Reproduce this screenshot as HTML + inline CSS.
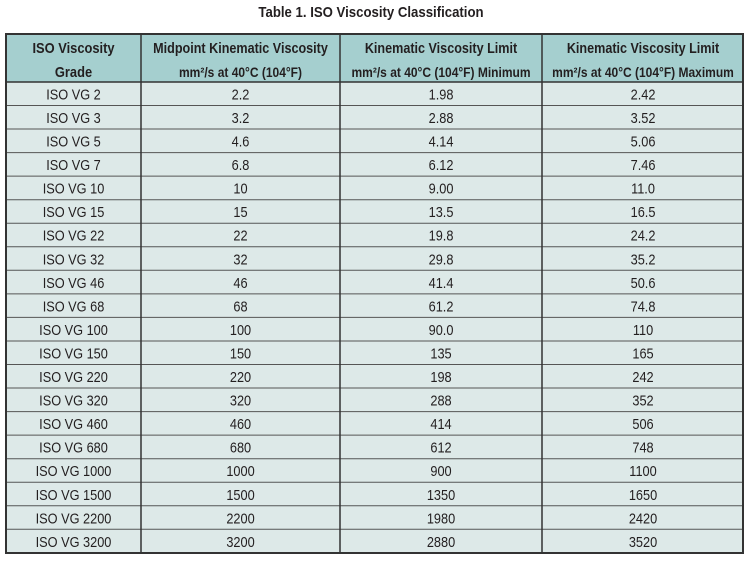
<!DOCTYPE html>
<html><head><style>
body{margin:0;background:#fff;width:750px;height:561px;overflow:hidden}
svg text{font-family:"Liberation Sans",sans-serif;fill:#231f20}
</style></head><body>
<svg width="750" height="561" viewBox="0 0 750 561" xmlns="http://www.w3.org/2000/svg">
<g transform="translate(371,0) scale(0.88,1)"><text x="0" y="17" text-anchor="middle" font-size="15" font-weight="bold">Table 1. ISO Viscosity Classification</text></g>
<rect x="6" y="34" width="737" height="48" fill="#a5cfcf"/>
<rect x="6" y="82" width="737" height="471" fill="#dde9e8"/>
<g stroke="#555" stroke-width="1">
<line x1="6" y1="105.5" x2="743" y2="105.5"/><line x1="6" y1="129" x2="743" y2="129"/>
<line x1="6" y1="152.6" x2="743" y2="152.6"/><line x1="6" y1="176.1" x2="743" y2="176.1"/>
<line x1="6" y1="199.7" x2="743" y2="199.7"/><line x1="6" y1="223.2" x2="743" y2="223.2"/>
<line x1="6" y1="246.8" x2="743" y2="246.8"/><line x1="6" y1="270.3" x2="743" y2="270.3"/>
<line x1="6" y1="293.9" x2="743" y2="293.9"/><line x1="6" y1="317.4" x2="743" y2="317.4"/>
<line x1="6" y1="341" x2="743" y2="341"/><line x1="6" y1="364.5" x2="743" y2="364.5"/>
<line x1="6" y1="388" x2="743" y2="388"/><line x1="6" y1="411.6" x2="743" y2="411.6"/>
<line x1="6" y1="435.1" x2="743" y2="435.1"/><line x1="6" y1="458.7" x2="743" y2="458.7"/>
<line x1="6" y1="482.2" x2="743" y2="482.2"/><line x1="6" y1="505.8" x2="743" y2="505.8"/>
<line x1="6" y1="529.3" x2="743" y2="529.3"/>
</g>
<g stroke="#333" stroke-width="1.5">
<line x1="6" y1="82" x2="743" y2="82"/>
<line x1="141" y1="34" x2="141" y2="553"/><line x1="340" y1="34" x2="340" y2="553"/><line x1="542" y1="34" x2="542" y2="553"/>
</g>
<rect x="6" y="34" width="737" height="519" fill="none" stroke="#333" stroke-width="2"/>
<g font-size="15" font-weight="bold" text-anchor="middle">
<g transform="translate(73.5,0) scale(0.86,1)"><text x="0" y="53">ISO Viscosity</text><text x="0" y="77">Grade</text></g>
<g transform="translate(240.5,0) scale(0.84,1)"><text x="0" y="53">Midpoint Kinematic Viscosity</text></g>
<g transform="translate(441,0) scale(0.84,1)"><text x="0" y="53">Kinematic Viscosity Limit</text></g>
<g transform="translate(643,0) scale(0.84,1)"><text x="0" y="53">Kinematic Viscosity Limit</text></g>
</g>
<g font-size="13.5" font-weight="bold" text-anchor="middle">
<g transform="translate(240.5,0) scale(0.89,1)"><text x="0" y="77">mm²/s at 40°C (104°F)</text></g>
<g transform="translate(441,0) scale(0.89,1)"><text x="0" y="77">mm²/s at 40°C (104°F) Minimum</text></g>
<g transform="translate(643,0) scale(0.89,1)"><text x="0" y="77">mm²/s at 40°C (104°F) Maximum</text></g>
</g>
<g font-size="15" text-anchor="middle">
<g transform="translate(73.5,0) scale(0.85,1)">
<text x="0" y="99.5">ISO VG 2</text><text x="0" y="123">ISO VG 3</text><text x="0" y="146.5">ISO VG 5</text><text x="0" y="170.1">ISO VG 7</text><text x="0" y="193.6">ISO VG 10</text><text x="0" y="217.2">ISO VG 15</text><text x="0" y="240.7">ISO VG 22</text><text x="0" y="264.3">ISO VG 32</text><text x="0" y="287.8">ISO VG 46</text><text x="0" y="311.4">ISO VG 68</text><text x="0" y="334.9">ISO VG 100</text><text x="0" y="358.5">ISO VG 150</text><text x="0" y="382">ISO VG 220</text><text x="0" y="405.6">ISO VG 320</text><text x="0" y="429.1">ISO VG 460</text><text x="0" y="452.7">ISO VG 680</text><text x="0" y="476.2">ISO VG 1000</text><text x="0" y="499.8">ISO VG 1500</text><text x="0" y="523.3">ISO VG 2200</text><text x="0" y="546.9">ISO VG 3200</text>
</g>
<g transform="translate(240.5,0) scale(0.85,1)">
<text x="0" y="99.5">2.2</text><text x="0" y="123">3.2</text><text x="0" y="146.5">4.6</text><text x="0" y="170.1">6.8</text><text x="0" y="193.6">10</text><text x="0" y="217.2">15</text><text x="0" y="240.7">22</text><text x="0" y="264.3">32</text><text x="0" y="287.8">46</text><text x="0" y="311.4">68</text><text x="0" y="334.9">100</text><text x="0" y="358.5">150</text><text x="0" y="382">220</text><text x="0" y="405.6">320</text><text x="0" y="429.1">460</text><text x="0" y="452.7">680</text><text x="0" y="476.2">1000</text><text x="0" y="499.8">1500</text><text x="0" y="523.3">2200</text><text x="0" y="546.9">3200</text>
</g>
<g transform="translate(441,0) scale(0.85,1)">
<text x="0" y="99.5">1.98</text><text x="0" y="123">2.88</text><text x="0" y="146.5">4.14</text><text x="0" y="170.1">6.12</text><text x="0" y="193.6">9.00</text><text x="0" y="217.2">13.5</text><text x="0" y="240.7">19.8</text><text x="0" y="264.3">29.8</text><text x="0" y="287.8">41.4</text><text x="0" y="311.4">61.2</text><text x="0" y="334.9">90.0</text><text x="0" y="358.5">135</text><text x="0" y="382">198</text><text x="0" y="405.6">288</text><text x="0" y="429.1">414</text><text x="0" y="452.7">612</text><text x="0" y="476.2">900</text><text x="0" y="499.8">1350</text><text x="0" y="523.3">1980</text><text x="0" y="546.9">2880</text>
</g>
<g transform="translate(643,0) scale(0.85,1)">
<text x="0" y="99.5">2.42</text><text x="0" y="123">3.52</text><text x="0" y="146.5">5.06</text><text x="0" y="170.1">7.46</text><text x="0" y="193.6">11.0</text><text x="0" y="217.2">16.5</text><text x="0" y="240.7">24.2</text><text x="0" y="264.3">35.2</text><text x="0" y="287.8">50.6</text><text x="0" y="311.4">74.8</text><text x="0" y="334.9">110</text><text x="0" y="358.5">165</text><text x="0" y="382">242</text><text x="0" y="405.6">352</text><text x="0" y="429.1">506</text><text x="0" y="452.7">748</text><text x="0" y="476.2">1100</text><text x="0" y="499.8">1650</text><text x="0" y="523.3">2420</text><text x="0" y="546.9">3520</text>
</g>
</g>
</svg>
</body></html>
